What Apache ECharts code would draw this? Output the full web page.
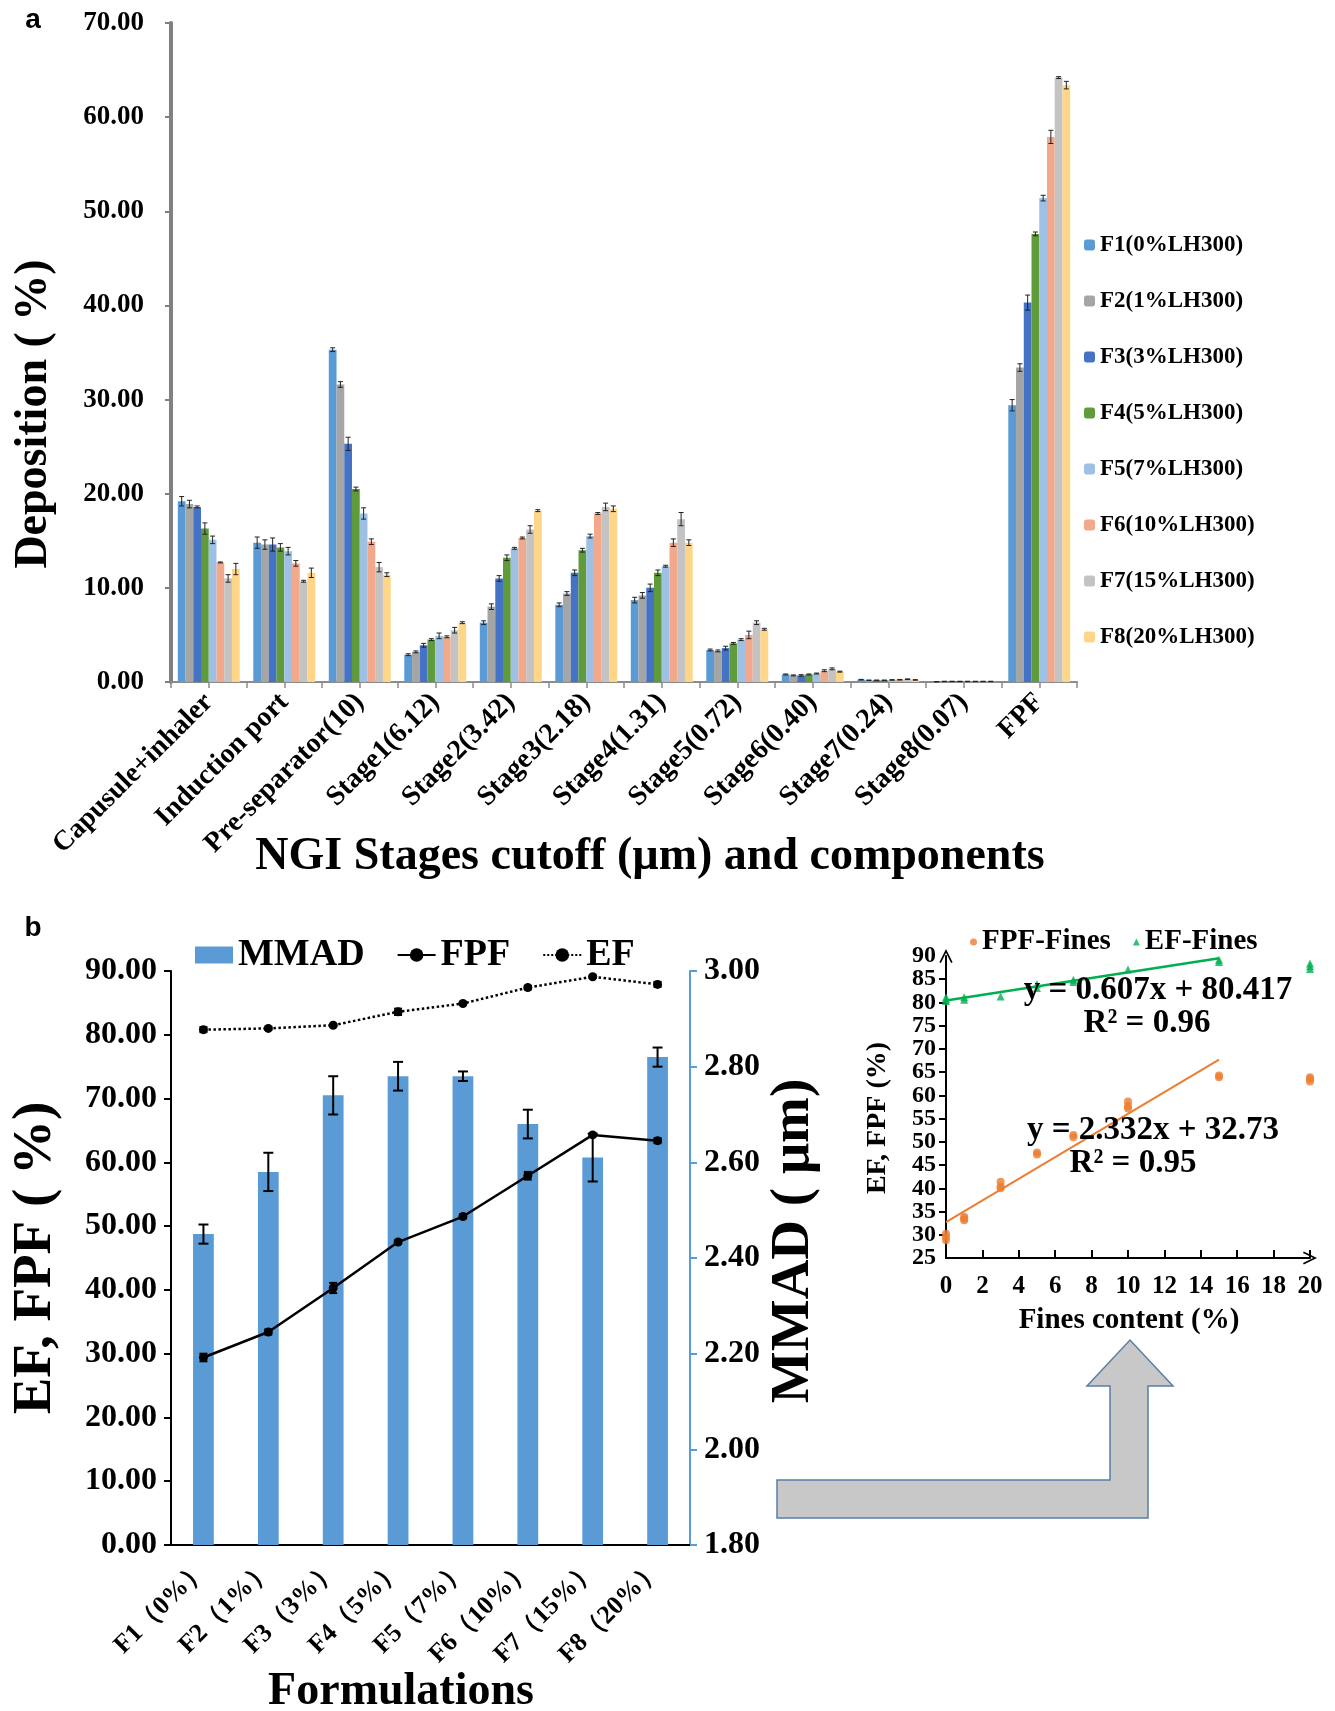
<!DOCTYPE html>
<html><head><meta charset="utf-8">
<script src="https://cdn.jsdelivr.net/npm/echarts@6/dist/echarts.min.js"></script>
<style>html,body{margin:0;padding:0;background:#fff}#c{width:1335px;height:1711px}</style>
</head><body><div id="c"></div>
<script>
// ---------- Panel a data ----------
const stages = ['Capusule+inhaler','Induction port','Pre-separator(10)','Stage1(6.12)','Stage2(3.42)','Stage3(2.18)','Stage4(1.31)','Stage5(0.72)','Stage6(0.40)','Stage7(0.24)','Stage8(0.07)','FPF'];
const formNamesA = ['F1(0%LH300)','F2(1%LH300)','F3(3%LH300)','F4(5%LH300)','F5(7%LH300)','F6(10%LH300)','F7(15%LH300)','F8(20%LH300)'];
const F1 = [19.2, 14.8, 35.3, 2.9, 6.3, 8.2, 8.7, 3.4, 0.8, 0.25, 0.03, 29.4];
const F2 = [18.9, 14.6, 31.6, 3.2, 8.0, 9.4, 9.2, 3.3, 0.7, 0.18, 0.06, 33.4];
const F3 = [18.6, 14.6, 25.3, 3.9, 11.0, 11.6, 10.0, 3.6, 0.7, 0.18, 0.06, 40.3];
const F4 = [16.3, 14.3, 20.5, 4.5, 13.2, 14.0, 11.6, 4.1, 0.8, 0.18, 0.06, 47.6];
const F5 = [15.1, 13.9, 17.9, 4.9, 14.2, 15.5, 12.3, 4.5, 0.9, 0.22, 0.06, 51.4];
const F6 = [12.7, 12.6, 14.9, 4.8, 15.3, 17.9, 14.8, 5.0, 1.2, 0.24, 0.06, 57.9];
const F7 = [11.0, 10.7, 12.2, 5.5, 16.2, 18.6, 17.3, 6.3, 1.4, 0.30, 0.06, 64.2];
const F8 = [12.0, 11.6, 11.4, 6.3, 18.2, 18.4, 14.8, 5.6, 1.1, 0.22, 0.06, 63.4];
const E1 = [0.5, 0.6, 0.2, 0.1, 0.2, 0.2, 0.3, 0.1, 0.05, 0.03, 0.02, 0.6];
const E2 = [0.4, 0.5, 0.3, 0.1, 0.3, 0.2, 0.3, 0.1, 0.05, 0.03, 0.02, 0.4];
const E3 = [0.1, 0.7, 0.7, 0.2, 0.3, 0.3, 0.4, 0.2, 0.08, 0.03, 0.02, 0.8];
const E4 = [0.6, 0.4, 0.2, 0.1, 0.3, 0.2, 0.3, 0.1, 0.05, 0.03, 0.02, 0.2];
const E5 = [0.4, 0.4, 0.6, 0.3, 0.1, 0.2, 0.1, 0.1, 0.05, 0.03, 0.02, 0.3];
const E6 = [0.05, 0.3, 0.3, 0.1, 0.1, 0.1, 0.4, 0.4, 0.1, 0.03, 0.02, 0.7];
const E7 = [0.4, 0.1, 0.5, 0.3, 0.4, 0.4, 0.7, 0.2, 0.1, 0.03, 0.02, 0.1];
const E8 = [0.6, 0.5, 0.2, 0.1, 0.1, 0.3, 0.3, 0.1, 0.05, 0.03, 0.02, 0.4];

// ---------- Panel b data ----------
const formulations = ['F1（0%）','F2（1%）','F3（3%）','F4（5%）','F5（7%）','F6（10%）','F7（15%）','F8（20%）'];
const mmad    = [2.45, 2.58, 2.74, 2.78, 2.78, 2.68, 2.61, 2.82];
const mmadErr = [0.02, 0.04, 0.04, 0.03, 0.01, 0.03, 0.05, 0.02];
const fpf     = [29.4, 33.4, 40.3, 47.5, 51.5, 57.9, 64.3, 63.4];
const fpfErr  = [0.6, 0.4, 0.8, 0.3, 0.3, 0.6, 0.2, 0.4];
const ef      = [80.8, 81.0, 81.5, 83.6, 84.9, 87.4, 89.1, 87.9];
const efErr   = [0.4, 0.2, 0.2, 0.5, 0.2, 0.3, 0.2, 0.4];

// ---------- Inset data ----------
const fpfFines = [[0,28.8],[0,29.5],[0,30.2],[1,33.1],[1,33.5],[1,33.9],[3,40.0],[3,40.4],[3,41.4],[5,47.3],[5,47.7],[7,51.0],[7,51.5],[10,57.2],[10,57.7],[10,58.7],[15,63.9],[15,64.3],[20,63.0],[20,63.5],[20,63.9]];
const efFines  = [[0,80.3],[0,80.7],[0,81.1],[1,80.6],[1,81.1],[3,81.3],[5,83.1],[5,83.9],[7,84.4],[7,84.9],[10,87.1],[15,88.7],[15,89.2],[20,87.2],[20,87.8],[20,88.4]];
const fpfTrend = [[0,32.73],[15,67.71]];
const efTrend  = [[0,80.42],[15,89.52]];
const insetYMin = 25, insetYMax = 90;

const colorsA = ['#5B9BD5','#A5A5A5','#4472C4','#5F9A3B','#9DC0E4','#F2A88A','#C3C3C3','#FFD688'];
const meansA = [F1,F2,F3,F4,F5,F6,F7,F8];
const errsA = [E1,E2,E3,E4,E5,E6,E7,E8];

const SERIF = '"Liberation Serif","Times New Roman",serif';
const bold = (size) => ({fontFamily: SERIF, fontWeight: 'bold', fontSize: size, color: '#000'});

function errSeriesA(si) {
  return {
    type: 'custom', xAxisIndex: 0, yAxisIndex: 0, z: 10, silent: true,
    data: meansA[si].map((m, i) => [i, m, errsA[si][i]]),
    encode: {x: 0, y: 1},
    renderItem: (params, api) => {
      const cat = api.value(0), m = api.value(1), e = api.value(2);
      const band = api.size([1, 0])[0];
      const bw = band * (1 - 0.18) / 8;
      const c = api.coord([cat, m]);
      const x = c[0] + (si - 3.5) * bw;
      const yt = api.coord([cat, m + e])[1];
      const yb = api.coord([cat, Math.max(0, m - e)])[1];
      const hw = 2.5;
      const st = {stroke: '#222', lineWidth: 1};
      return {type: 'group', children: [
        {type: 'line', shape: {x1: x, y1: yt, x2: x, y2: yb}, style: st},
        {type: 'line', shape: {x1: x - hw, y1: yt, x2: x + hw, y2: yt}, style: st},
        {type: 'line', shape: {x1: x - hw, y1: yb, x2: x + hw, y2: yb}, style: st}
      ]};
    }
  };
}
function errSeriesB(means, errs, yIdx, hw, lw) {
  return {
    type: 'custom', xAxisIndex: 2, yAxisIndex: yIdx, z: 12, silent: true,
    data: means.map((m, i) => [i, m, errs[i]]),
    encode: {x: 0, y: 1},
    renderItem: (params, api) => {
      const cat = api.value(0), m = api.value(1), e = api.value(2);
      const x = api.coord([cat, m])[0];
      const yt = api.coord([cat, m + e])[1];
      const yb = api.coord([cat, m - e])[1];
      const st = {stroke: '#000', lineWidth: lw};
      return {type: 'group', children: [
        {type: 'line', shape: {x1: x, y1: yt, x2: x, y2: yb}, style: st},
        {type: 'line', shape: {x1: x - hw, y1: yt, x2: x + hw, y2: yt}, style: st},
        {type: 'line', shape: {x1: x - hw, y1: yb, x2: x + hw, y2: yb}, style: st}
      ]};
    }
  };
}

const series = [];
formNamesA.forEach((n, si) => {
  series.push({
    name: n, type: 'bar', xAxisIndex: 0, yAxisIndex: 0, data: meansA[si],
    barGap: '0%', barCategoryGap: '18%', itemStyle: {color: colorsA[si]}
  });
});
formNamesA.forEach((n, si) => series.push(errSeriesA(si)));

series.push({name: 'MMAD', type: 'bar', xAxisIndex: 2, yAxisIndex: 2, data: mmad, barWidth: '32%', itemStyle: {color: '#5B9BD5'}, z: 2});
series.push(errSeriesB(mmad, mmadErr, 2, 5, 2));
series.push({name: 'FPF', type: 'line', xAxisIndex: 2, yAxisIndex: 1, data: fpf, z: 5,
  symbol: 'circle', symbolSize: 9, itemStyle: {color: '#000'}, lineStyle: {color: '#000', width: 2.5}});
series.push(errSeriesB(fpf, fpfErr, 1, 4, 2));
series.push({name: 'EF', type: 'line', xAxisIndex: 2, yAxisIndex: 1, data: ef, z: 5,
  symbol: 'circle', symbolSize: 9, itemStyle: {color: '#000'}, lineStyle: {color: '#000', width: 2.5, type: 'dotted'}});
series.push(errSeriesB(ef, efErr, 1, 4, 2));

series.push({name: 'FPF-Fines', type: 'scatter', xAxisIndex: 3, yAxisIndex: 3, data: fpfFines, symbol: 'circle', symbolSize: 8, itemStyle: {color: '#ED7D31'}, z: 6});
series.push({name: 'EF-Fines', type: 'scatter', xAxisIndex: 3, yAxisIndex: 3, data: efFines, symbol: 'triangle', symbolSize: 8, itemStyle: {color: '#00B050'}, z: 6});
series.push({name: 'fpfTrend', type: 'line', xAxisIndex: 3, yAxisIndex: 3, data: fpfTrend, symbol: 'none', lineStyle: {color: '#ED7D31', width: 2}, z: 4, silent: true});
series.push({name: 'efTrend', type: 'line', xAxisIndex: 3, yAxisIndex: 3, data: efTrend, symbol: 'none', lineStyle: {color: '#00B050', width: 2.5}, z: 4, silent: true});

const chevron = 'path://M0,12 L6,0 L12,12 L10.6,12.7 L6,3.4 L1.4,12.7 Z';
const T = (x, y, text, size, rot, extra) => Object.assign({type: 'text', x: x, y: y, rotation: rot || 0, z: 20,
  style: {text: text, font: 'bold ' + size + 'px ' + SERIF, fill: '#000', align: 'center', verticalAlign: 'middle', textAlign: 'center', textVerticalAlign: 'middle'}}, extra || {});

const option = {
  animation: false,
  backgroundColor: '#fff',
  grid: [
    {left: 171, top: 23, width: 906, height: 659},
    {left: 171, top: 971, width: 519, height: 574},
    {left: 946, top: 956, width: 364, height: 302}
  ],
  xAxis: [
    {gridIndex: 0, type: 'category', data: stages,
      axisLine: {lineStyle: {color: '#8c8c8c', width: 2}}, axisTick: {show: false},
      axisLabel: Object.assign(bold(28), {rotate: 45, interval: 0, margin: 16})},
    {gridIndex: 0, type: 'category', position: 'bottom', data: Array.from({length: stages.length * 2}, () => ''),
      axisLine: {show: false}, axisTick: {show: true, length: 6, lineStyle: {color: '#8c8c8c', width: 1.5}},
      axisLabel: {show: false}, splitLine: {show: false}},
    {gridIndex: 1, type: 'category', data: formulations,
      axisLine: {lineStyle: {color: '#000', width: 2}}, axisTick: {show: false},
      axisLabel: Object.assign(bold(26), {rotate: 45, interval: 0, margin: 20})},
    {gridIndex: 2, type: 'value', min: 0, max: 20, interval: 2,
      axisLine: {lineStyle: {color: '#000', width: 2}, symbol: ['none', chevron], symbolSize: [14, 14]},
      axisTick: {show: true, inside: true, length: 8, lineStyle: {color: '#000', width: 2}},
      axisLabel: Object.assign(bold(25), {margin: 16, showMinLabel: true, showMaxLabel: true}), splitLine: {show: false}}
  ],
  yAxis: [
    {gridIndex: 0, type: 'value', min: 0, max: 70, interval: 10,
      axisLine: {show: true, lineStyle: {color: '#808080', width: 4}},
      axisTick: {show: true, length: 6, lineStyle: {color: '#808080', width: 2}},
      axisLabel: Object.assign(bold(27), {margin: 27, formatter: v => v.toFixed(2)}), splitLine: {show: false}},
    {gridIndex: 1, type: 'value', min: 0, max: 90, interval: 10,
      axisLine: {show: true, lineStyle: {color: '#000', width: 2}},
      axisTick: {show: true, length: 7, lineStyle: {color: '#000', width: 2}},
      axisLabel: Object.assign(bold(32), {margin: 14, formatter: v => v.toFixed(2)}), splitLine: {show: false}},
    {gridIndex: 1, type: 'value', position: 'right', min: 1.8, max: 3.0, interval: 0.2,
      axisLine: {show: true, lineStyle: {color: '#5B9BD5', width: 2}},
      axisTick: {show: true, length: 7, lineStyle: {color: '#5B9BD5', width: 2}},
      axisLabel: Object.assign(bold(32), {margin: 14, formatter: v => v.toFixed(2)}), splitLine: {show: false}},
    // inset main y axis: labels between the ends
    {gridIndex: 2, type: 'value', position: 'left', min: insetYMin, max: insetYMax, interval: 5,
      axisLine: {show: true, lineStyle: {color: '#000', width: 2}, symbol: ['none', chevron], symbolSize: [14, 14]},
      axisTick: {show: true, length: 7, lineStyle: {color: '#000', width: 2}},
      axisLabel: Object.assign(bold(24), {margin: 10, showMinLabel: false, showMaxLabel: false}),
      splitLine: {show: false}},
    // inset companion y axis: only the end labels
    {gridIndex: 2, type: 'value', position: 'left', offset: 0, min: insetYMin, max: insetYMax, interval: 5,
      axisLine: {show: false}, axisTick: {show: false}, splitLine: {show: false},
      axisLabel: Object.assign(bold(24), {margin: 10, showMinLabel: true, showMaxLabel: true,
        formatter: v => (v === insetYMin || v === insetYMax) ? String(v) : ''})}
  ],
  legend: [
    {data: formNamesA, orient: 'vertical', left: 1079, top: 228, itemWidth: 11, itemHeight: 11, itemGap: 32,
      textStyle: Object.assign(bold(23), {lineHeight: 24}), selectedMode: false},
    {data: [{name: 'MMAD', icon: 'rect'}, 'FPF', 'EF'], left: 190, top: 930, itemWidth: 38, itemHeight: 17, itemGap: 32,
      textStyle: Object.assign(bold(38), {lineHeight: 40}), selectedMode: false},
    {data: [{name: 'FPF-Fines', icon: 'circle'}, {name: 'EF-Fines', icon: 'triangle'}], left: 965, top: 922,
      itemWidth: 7, itemHeight: 7, itemGap: 22, textStyle: Object.assign(bold(29), {lineHeight: 30}), selectedMode: false}
  ],
  graphic: [
    {type: 'polygon', z: 0, shape: {points: [[777,1480],[1110,1480],[1110,1386],[1087,1386],[1130,1340],[1173,1386],[1148,1386],[1148,1518],[777,1518]]},
      style: {fill: '#C8C8C8', stroke: '#5A7EA6', lineWidth: 1.5}},
    {type: 'text', x: 33, y: 20, style: {text: 'a', font: 'bold 28px "Liberation Sans",Arial,sans-serif', fill: '#000', align: 'center', verticalAlign: 'middle', textAlign: 'center', textVerticalAlign: 'middle'}},
    {type: 'text', x: 33, y: 928, style: {text: 'b', font: 'bold 28px "Liberation Sans",Arial,sans-serif', fill: '#000', align: 'center', verticalAlign: 'middle', textAlign: 'center', textVerticalAlign: 'middle'}},
    T(34, 414, 'Deposition ( %)', 46, Math.PI / 2),
    T(650, 857, 'NGI Stages cutoff (µm) and components', 46),
    T(36, 1258, 'EF, FPF ( %)', 55, Math.PI / 2),
    T(794, 1241, 'MMAD ( μm)', 55, Math.PI / 2),
    T(401, 1692, 'Formulations', 46),
    T(1129, 1321, 'Fines content (%)', 29),
    T(878, 1118, 'EF, FPF (%)', 28, Math.PI / 2),
    T(1158, 990, 'y = 0.607x + 80.417', 33),
    T(1147, 1023, 'R² = 0.96', 33),
    T(1153, 1130, 'y = 2.332x + 32.73', 33),
    T(1133, 1163, 'R² = 0.95', 33)
  ],
  series: series
};
const chart = echarts.init(document.getElementById('c'), null, {renderer: 'canvas'});
chart.setOption(option);
</script></body></html>
